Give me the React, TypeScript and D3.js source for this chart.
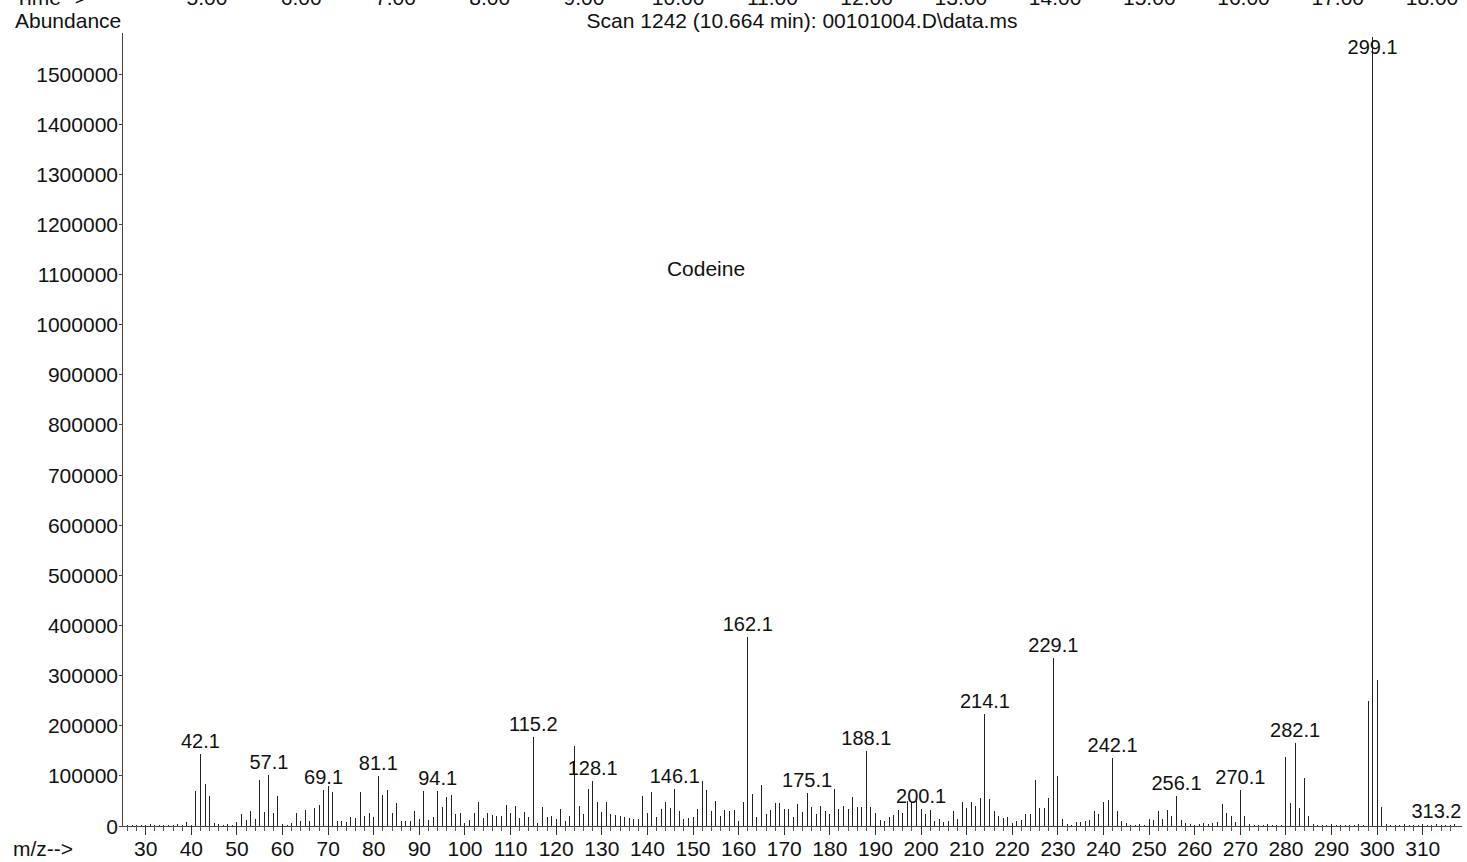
import React from "react";
import * as d3 from "d3";

// ---- data (m/z, abundance) ----
const lowMass: [number, number][] = [
  [26, 2000], [27, 1500], [28, 2500], [29, 1500], [30, 2000], [31, 3000], [32, 1500], [33, 2000],
  [34, 1500], [35, 2500], [36, 1500], [37, 3000], [38, 2000], [39, 8000], [40, 2000],
  [41, 69000], [42, 143000], [43, 83000], [44, 60000], [45, 6000], [46, 3000], [47, 2500], [48, 3000],
  [49, 2500], [50, 8000], [51, 23000], [52, 12000], [53, 30000], [54, 13000], [55, 91000], [56, 28000],
  [57, 101000], [58, 26000], [59, 60000], [60, 3000], [61, 2500], [62, 5000], [63, 26000], [64, 9000],
  [65, 31000], [66, 10000], [67, 35000], [68, 41000], [69, 72000], [70, 80000], [71, 68000], [72, 9000],
  [73, 9000], [74, 7000], [75, 17000], [76, 15000], [77, 68000], [78, 20000], [79, 26000], [80, 18000],
  [81, 99000], [82, 61000], [83, 71000], [84, 26000], [85, 46000], [86, 10000], [87, 10000], [88, 9000],
  [89, 30000], [90, 13000], [91, 70000], [92, 11000], [93, 18000], [94, 70000], [95, 37000], [96, 58000],
  [97, 61000], [98, 23000], [99, 25000],
];
const midMass: [number, number][] = [
  [100, 5000], [101, 12000], [102, 25000], [103, 48000], [104, 15000], [105, 26000], [106, 21000],
  [107, 20000], [108, 20000], [109, 41000], [110, 26000], [111, 39000], [112, 15000], [113, 27000],
  [114, 18000], [115, 177000], [116, 5000], [117, 38000], [118, 18000], [119, 20000], [120, 13000],
  [121, 33000], [122, 10000], [123, 20000], [124, 159000], [125, 40000], [126, 23000], [127, 73000],
  [128, 90000], [129, 48000], [130, 27000], [131, 48000], [132, 23000], [133, 21000], [134, 20000],
  [135, 17000], [136, 15000], [137, 13000], [138, 13000], [139, 59000], [140, 25000], [141, 67000],
  [142, 18000], [143, 33000], [144, 47000], [145, 35000], [146, 73000], [147, 29000], [148, 13000],
  [149, 15000], [150, 17000], [151, 33000], [152, 89000], [153, 72000], [154, 29000], [155, 50000],
  [156, 20000], [157, 31000], [158, 30000], [159, 32000], [160, 10000], [161, 47000], [162, 378000],
  [163, 63000], [164, 18000], [165, 81000], [166, 23000], [167, 31000], [168, 45000], [169, 46000],
  [170, 33000], [171, 33000], [172, 17000], [173, 43000], [174, 27000], [175, 66000], [176, 37000],
  [177, 23000], [178, 40000], [179, 30000], [180, 23000], [181, 73000], [182, 33000], [183, 40000],
  [184, 33000], [185, 57000], [186, 38000], [187, 38000], [188, 150000], [189, 38000], [190, 25000],
  [191, 12000], [192, 10000], [193, 18000], [194, 21000], [195, 31000], [196, 25000], [197, 50000],
  [198, 48000], [199, 50000],
];
const highMass: [number, number][] = [
  [200, 33000], [201, 23000], [202, 31000], [203, 10000], [204, 13000], [205, 7000], [206, 9000],
  [207, 29000], [208, 13000], [209, 48000], [210, 35000], [211, 47000], [212, 40000], [213, 55000],
  [214, 224000], [215, 53000], [216, 29000], [217, 20000], [218, 15000], [219, 17000], [220, 5000],
  [221, 10000], [222, 11000], [223, 23000], [224, 23000], [225, 91000], [226, 35000], [227, 35000],
  [228, 55000], [229, 335000], [230, 99000], [231, 13000], [232, 3000], [233, 2000], [234, 7000],
  [235, 8000], [236, 10000], [237, 12000], [238, 29000], [239, 23000], [240, 47000], [241, 52000],
  [242, 136000], [243, 29000], [244, 9000], [245, 6000], [246, 2500], [247, 2000], [248, 3000],
  [249, 2500], [250, 13000], [251, 11000], [252, 29000], [253, 13000], [254, 31000], [255, 19000],
  [256, 60000], [257, 11000], [258, 5000], [259, 3000], [260, 2500], [261, 3000], [262, 5000],
  [263, 4000], [264, 5000], [265, 7000], [266, 44000], [267, 26000], [268, 20000], [269, 7000],
  [270, 72000], [271, 20000], [272, 3000], [273, 2000], [274, 2500], [275, 2000], [276, 3000],
  [277, 2000], [278, 2500], [279, 2000], [280, 138000], [281, 45000], [282, 165000], [283, 35000],
  [284, 96000], [285, 19000], [286, 3000], [287, 2000], [288, 2500], [289, 2000], [290, 3000],
  [291, 2000], [292, 2500], [293, 2000], [294, 2500], [295, 2000], [296, 3000], [297, 2000],
  [298, 250000], [299, 1575000], [300, 292000], [301, 37000], [302, 3000], [303, 2000], [304, 2500],
  [305, 2000], [306, 3000], [307, 2000], [308, 2500], [309, 2000], [310, 3000], [311, 2000],
  [312, 2500], [313, 3500], [314, 2000], [315, 2500], [316, 2000], [317, 3000],
];

const peakLabels: [number, string][] = [
  [42, "42.1"], [57, "57.1"], [69, "69.1"], [81, "81.1"], [94, "94.1"], [115, "115.2"],
  [128, "128.1"], [146, "146.1"], [162, "162.1"], [175, "175.1"], [188, "188.1"], [200, "200.1"],
  [214, "214.1"], [229, "229.1"], [242, "242.1"], [256, "256.1"], [270, "270.1"], [282, "282.1"],
  [299, "299.1"], [313, "313.2"],
];

const yTicks = [0, 100000, 200000, 300000, 400000, 500000, 600000, 700000, 800000, 900000,
  1000000, 1100000, 1200000, 1300000, 1400000, 1500000];
const xMajorTicks = [30, 40, 50, 60, 70, 80, 90, 100, 110, 120, 130, 140, 150, 160, 170, 180, 190,
  200, 210, 220, 230, 240, 250, 260, 270, 280, 290, 300, 310];
const timeTicks = ["5.00", "6.00", "7.00", "8.00", "9.00", "10.00", "11.00", "12.00", "13.00",
  "14.00", "15.00", "16.00", "17.00", "18.00"];

const W = 1467;
const H = 862;
const FONT = "'Liberation Sans', Arial, Helvetica, sans-serif";

export default function App() {
  const spectrum = [...lowMass, ...midMass, ...highMass];
  const abundanceOf = new Map(spectrum);

  const left = 122;
  const right = 1462;
  const base = 826;
  const top = 33;

  const x = d3.scaleLinear().domain([24.8, 318.6]).range([left, right]);
  const y = d3.scaleLinear().domain([0, 1580000]).range([base, 34]);
  const tTime = d3.scaleLinear().domain([5, 18]).range([207, 1432]);

  const minorTicks = d3.range(26, 318, 2).filter((v) => v % 10 !== 0);

  return (
    <svg
      width={W}
      height={H}
      style={{ position: "absolute", left: 0, top: 0, background: "#fff" }}
      fontFamily={FONT}
    >
      <rect x={0} y={0} width={W} height={H} fill="#fff" />

      {/* cropped time axis at top */}
      <text x={15} y={5} fontSize={21} fill="#111">Time--&gt;</text>
      {timeTicks.map((t) => (
        <text key={t} x={tTime(parseFloat(t))} y={5} fontSize={21} textAnchor="middle" fill="#111">
          {t}
        </text>
      ))}

      <text x={15} y={28} fontSize={21} fill="#111">Abundance</text>
      <text x={802} y={28} fontSize={21} textAnchor="middle" fill="#111">
        {"Scan 1242 (10.664 min): 00101004.D\\data.ms"}
      </text>

      <text x={706} y={276} fontSize={21} textAnchor="middle" fill="#111">Codeine</text>

      {/* y axis */}
      <line x1={left} x2={left} y1={top} y2={base} stroke="#444" strokeWidth={1} shapeRendering="crispEdges" />
      {yTicks.map((v) => (
        <g key={v}>
          <line x1={left - 3} x2={left} y1={y(v)} y2={y(v)} stroke="#444" shapeRendering="crispEdges" />
          <text x={118} y={y(v) + 7.5} fontSize={21} textAnchor="end" fill="#111">
            {v}
          </text>
        </g>
      ))}

      {/* x axis */}
      <line x1={left} x2={right} y1={base} y2={base} stroke="#444" strokeWidth={1} shapeRendering="crispEdges" />
      {minorTicks.map((v) => (
        <line key={"m" + v} x1={x(v)} x2={x(v)} y1={base} y2={base + 5} stroke="#555" shapeRendering="crispEdges" />
      ))}
      {xMajorTicks.map((v) => (
        <g key={"M" + v}>
          <line x1={x(v)} x2={x(v)} y1={base} y2={base + 9} stroke="#333" shapeRendering="crispEdges" />
          <text x={x(v)} y={856} fontSize={21} textAnchor="middle" fill="#111">
            {v}
          </text>
        </g>
      ))}
      <text x={13} y={856} fontSize={21} fill="#111">m/z--&gt;</text>

      {/* spectrum sticks */}
      {spectrum.map(([m, a]) => (
        <line
          key={"p" + m}
          x1={x(m)}
          x2={x(m)}
          y1={base}
          y2={y(a)}
          stroke="#222"
          strokeWidth={1}
          shapeRendering="crispEdges"
        />
      ))}

      {/* peak labels */}
      {peakLabels.map(([m, label]) => {
        const a = abundanceOf.get(m) ?? 0;
        const ly = Math.max(y(a) - 6, 54);
        return (
          <text key={"l" + m} x={x(m)} y={ly} fontSize={20} textAnchor="middle" fill="#111">
            {label}
          </text>
        );
      })}
    </svg>
  );
}
